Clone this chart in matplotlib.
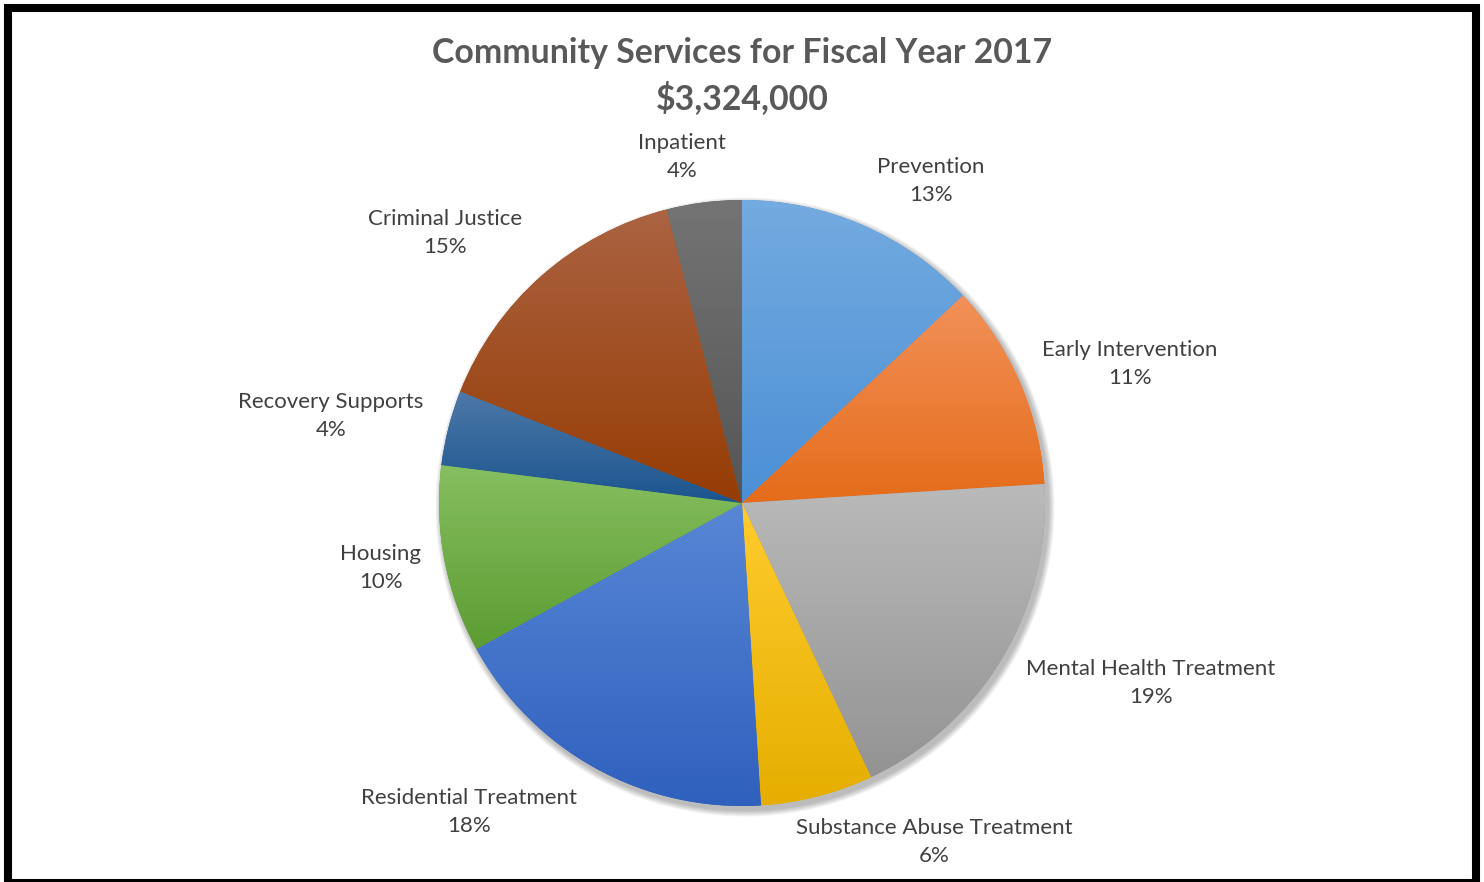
'''
Community services pie chart, fiscal year 2017
'''

import numpy                as     np
import matplotlib
matplotlib.use( 'Agg' )
import matplotlib.pyplot    as     plt
from   matplotlib.colors    import LinearSegmentedColormap
from   matplotlib.patches   import Rectangle, Circle

plt.rcParams[ 'font.family' ] = [ 'Lato', 'DejaVu Sans' ]

# Data
categories = [ 'Prevention', 'Early Intervention', 'Mental Health Treatment',
               'Substance Abuse Treatment', 'Residential Treatment', 'Housing',
               'Recovery Supports', 'Criminal Justice', 'Inpatient' ]
shares     = [ 13, 11, 19, 6, 18, 10, 4, 15, 4 ]
pct_labels = [ '13%', '11%', '19%', '6%', '18%', '10%', '4%', '15%', '4%' ]
title_line1 = 'Community Services for Fiscal Year 2017'
title_line2 = '$3,324,000'

# Gradient colours per slice ( top, bottom )
grad_colors = [
    ( '#74abe0', '#4b8fd5' ),
    ( '#f29159', '#e56c1a' ),
    ( '#bababa', '#939393' ),
    ( '#ffcc2e', '#e5ae00' ),
    ( '#5887d6', '#2f60bd' ),
    ( '#86bf60', '#5c9c32' ),
    ( '#4d79a8', '#1b548e' ),
    ( '#ab6342', '#963c04' ),
    ( '#747474', '#555555' ),
]

# Label anchor positions in pixels from the top-left corner
label_pos = [ ( 931, 181 ), ( 1130, 364 ), ( 1151, 683 ), ( 934, 842 ),
              ( 469, 812 ), ( 381, 568 ), ( 331, 416 ), ( 445, 233 ),
              ( 682, 157 ) ]

W, H   = 1484, 882
cx, cy = 742, H - 503
radius = 303

fig = plt.figure( figsize = ( W / 100, H / 100 ), dpi = 100 )
ax  = fig.add_axes( [ 0, 0, 1, 1 ] )

# Soft shadow behind the pie
for i in range( 8 ):
    ax.add_patch( Circle( ( cx + 3, cy - 4 ), radius + 1 + i * 0.8,
                          color = 'black', alpha = 0.035, lw = 0, zorder = 0 ) )

wedges, _ = ax.pie( shares, center = ( cx, cy ), radius = radius,
                    startangle = 90, counterclock = False,
                    colors = [ c[ 1 ] for c in grad_colors ],
                    wedgeprops = dict( linewidth = 0 ) )

# Vertical gradient inside each slice
grad = np.linspace( 0, 1, 256 ).reshape( -1, 1 )
for w, ( top, bottom ) in zip( wedges, grad_colors ):
    bb   = w.get_path().get_extents()
    cmap = LinearSegmentedColormap.from_list( 'g', [ top, bottom ] )
    im   = ax.imshow( grad, extent = [ bb.x0, bb.x1, bb.y0, bb.y1 ],
                      origin = 'upper', cmap = cmap, aspect = 'auto',
                      zorder = 2, interpolation = 'bilinear' )
    im.set_clip_path( w )

# Data labels
for name, pct, ( lx, ly ) in zip( categories, pct_labels, label_pos ):
    ax.text( lx, H - ly, name + '\n' + pct, ha = 'center', va = 'center',
             fontsize = 16, color = '#404040', linespacing = 1.5, zorder = 5 )

# Title
ax.text( W / 2, H - 53, title_line1, ha = 'center', va = 'center',
         fontsize = 24.4, fontweight = 'bold', color = '#595959' )
ax.text( W / 2, H - 98, title_line2, ha = 'center', va = 'center',
         fontsize = 24.4, fontweight = 'bold', color = '#595959' )

# Black frame around the chart
ax.add_patch( Rectangle( ( 8, -1 ), 1468, 875, fill = False,
                         edgecolor = 'black', lw = 5.8, zorder = 10 ) )

ax.set_xlim( 0, W )
ax.set_ylim( 0, H )
ax.set_aspect( 'auto' )
ax.axis( 'off' )

fig.savefig( 'out.png', dpi = 100, facecolor = 'white' )
